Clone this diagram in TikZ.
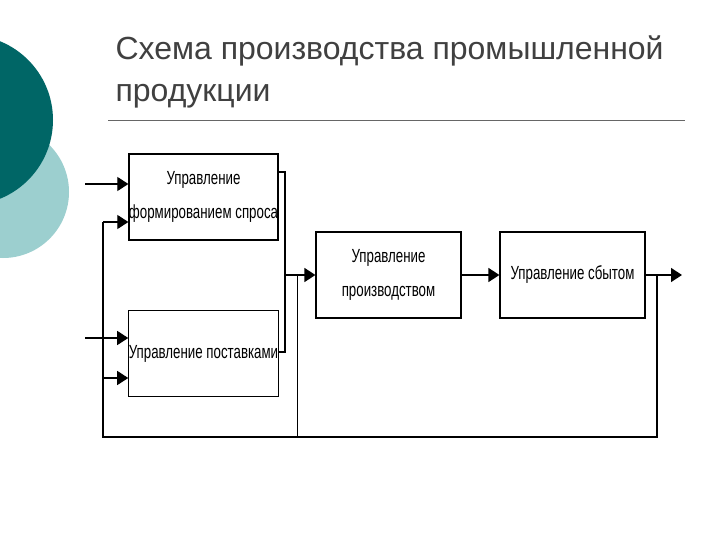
\documentclass[tikz,border=0pt]{standalone}
\usepackage{fontspec}
\setmainfont{Liberation Sans}
\newfontfamily\narrowf{Liberation Sans}[FakeStretch=0.7]
\usetikzlibrary{arrows.meta}
\definecolor{lightteal}{HTML}{9CCFCF}
\definecolor{darkteal}{HTML}{006666}
\begin{document}
\begin{tikzpicture}[x=1pt,y=-1pt,
 box/.style={draw,line width=1.2pt,minimum width=145pt,minimum height=86pt,inner sep=0pt,align=center,font=\narrowf\fontsize{19}{34}\selectfont},
 ln/.style={line width=1.3pt},
 arr/.style={ln,-{Triangle[length=11pt,width=14pt]}}]
\useasboundingbox (0,0) rectangle (720,540);
\fill[white] (0,0) rectangle (720,540);
\begin{scope}
\clip (0,0) rectangle (720,540);
\fill[lightteal] (3,192) circle (66);
\fill[darkteal] (-32,120) circle (85);
\end{scope}
\node[anchor=west,font=\fontsize{32}{42}\selectfont,text=black!75,align=left] (title) at (112,72) {Схема производства промышленной\\продукции};
\draw[black!60,line width=0.6pt] (108,120) -- (685,120);
\node[box] (b1) at (203.5,197) {Управление\\формированием спроса};
\node[box] (b2) at (203.5,353.5) {Управление поставками};
\node[box] (b3) at (388.5,275) {Управление\\производством};
\node[box] (b4) at (572.5,275) {Управление сбытом};
\coordinate (i1) at (85,184);
\coordinate (i2) at (85,338);
\draw[arr] (i1) -- (i1 -| b1.west);
\draw[arr] (i2) -- (i2 -| b2.west);
\draw[ln] (b1.east |- 0,172) -- (285,172) -- (285,352) -- (b2.east |- 0,352);
\draw[arr] (285,275) -- (b3.west);
\draw[arr] (b3.east) -- (b4.west);
\coordinate (o) at (682,275);
\draw[arr] (b4.east) -- (o);
\draw[ln] (657,275) -- (657,437) -- (103,437) -- (103,222);
\draw[arr] (103,222) -- (b1.west |- 0,222);
\draw[arr] (103,378) -- (b2.west |- 0,378);
\draw[line width=0.8pt] (297,275) -- (297,437);
\end{tikzpicture}
\end{document}
